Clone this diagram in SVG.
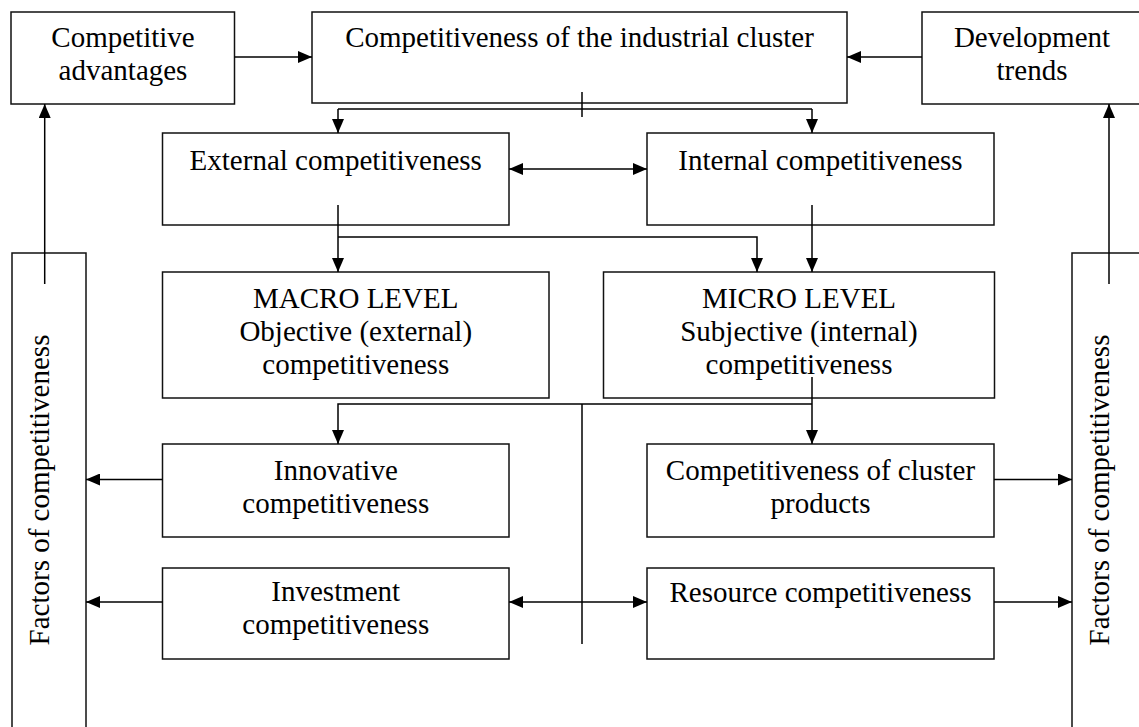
<svg xmlns="http://www.w3.org/2000/svg" width="1139" height="727" viewBox="0 0 1139 727">
  <defs>
    <marker id="arr" markerUnits="userSpaceOnUse" markerWidth="14" markerHeight="12" refX="14" refY="6" orient="auto-start-reverse" viewBox="0 0 14 12">
      <path d="M0,0 L14,6 L0,12 Z" fill="#000"/>
    </marker>
    <style>
      .box { fill: #fff; stroke: #111; stroke-width: 1.5; }
      .t { font-family: "Liberation Serif", "Times New Roman", serif; font-size: 29px; fill: #000; text-anchor: middle; }
      .ln { fill: none; stroke: #000; stroke-width: 1.5; }
      .a { marker-end: url(#arr); }
      .aa { marker-start: url(#arr); marker-end: url(#arr); }
    </style>
  </defs>
  <rect width="1139" height="727" fill="#fff"/>

  <g id="node-competitive-advantages">
    <rect class="box" x="11" y="12" width="223.5" height="92"/>
    <text class="t" x="123" y="47">Competitive</text>
    <text class="t" x="123" y="80">advantages</text>
  </g>
  <g id="node-cluster">
    <rect class="box" x="312" y="12" width="535" height="91"/>
    <text class="t" x="579.5" y="47">Competitiveness of the industrial cluster</text>
  </g>
  <g id="node-development-trends">
    <rect class="box" x="922" y="12" width="220" height="92"/>
    <text class="t" x="1032" y="47">Development</text>
    <text class="t" x="1032" y="80">trends</text>
  </g>
  <g id="node-external">
    <rect class="box" x="162.5" y="133" width="346.5" height="92"/>
    <text class="t" x="335.75" y="170">External competitiveness</text>
  </g>
  <g id="node-internal">
    <rect class="box" x="647" y="133" width="347" height="92"/>
    <text class="t" x="820.5" y="170">Internal competitiveness</text>
  </g>
  <g id="node-macro">
    <rect class="box" x="162.5" y="272" width="386.5" height="126"/>
    <text class="t" x="355.75" y="308">MACRO LEVEL</text>
    <text class="t" x="355.75" y="341">Objective (external)</text>
    <text class="t" x="355.75" y="374">competitiveness</text>
  </g>
  <g id="node-micro">
    <rect class="box" x="603.5" y="272" width="391" height="126"/>
    <text class="t" x="799" y="308">MICRO LEVEL</text>
    <text class="t" x="799" y="341">Subjective (internal)</text>
    <text class="t" x="799" y="374">competitiveness</text>
  </g>
  <g id="node-innovative">
    <rect class="box" x="162.5" y="444" width="346.5" height="93"/>
    <text class="t" x="335.75" y="480">Innovative</text>
    <text class="t" x="335.75" y="513">competitiveness</text>
  </g>
  <g id="node-products">
    <rect class="box" x="647" y="444" width="347" height="93"/>
    <text class="t" x="820.5" y="480">Competitiveness of cluster</text>
    <text class="t" x="820.5" y="513">products</text>
  </g>
  <g id="node-investment">
    <rect class="box" x="162.5" y="568" width="346.5" height="91"/>
    <text class="t" x="335.75" y="601">Investment</text>
    <text class="t" x="335.75" y="634">competitiveness</text>
  </g>
  <g id="node-resource">
    <rect class="box" x="647" y="568" width="347" height="91"/>
    <text class="t" x="820.5" y="602">Resource competitiveness</text>
  </g>
  <g id="node-factors-left">
    <rect class="box" x="12" y="253" width="74" height="490"/>
    <text class="t" transform="translate(49,490) rotate(-90)" x="0" y="0">Factors of competitiveness</text>
  </g>
  <g id="node-factors-right">
    <rect class="box" x="1072" y="253" width="74" height="490"/>
    <text class="t" transform="translate(1109,490) rotate(-90)" x="0" y="0">Factors of competitiveness</text>
  </g>

  <g id="connectors">
    <path class="ln a" d="M234.5,57 H312"/>
    <path class="ln a" d="M922,57 H847"/>
    <path class="ln" d="M338,109 H812"/>
    <path class="ln" d="M582,92 V117"/>
    <path class="ln a" d="M338,109 V133"/>
    <path class="ln a" d="M812,109 V133"/>
    <path class="ln aa" d="M509,169 H647"/>
    <path class="ln a" d="M338,205 V272"/>
    <path class="ln a" d="M338,237 H757 V272"/>
    <path class="ln a" d="M812,205 V272"/>
    <path class="ln a" d="M812,377 V444"/>
    <path class="ln a" d="M812,404 H338 V444"/>
    <path class="ln" d="M582,404 V644"/>
    <path class="ln a" d="M162.5,479.5 H86"/>
    <path class="ln a" d="M994,479.5 H1072"/>
    <path class="ln a" d="M162.5,602 H86"/>
    <path class="ln a" d="M994,602 H1072"/>
    <path class="ln aa" d="M509,602 H647"/>
    <path class="ln a" d="M44.7,284 V104"/>
    <path class="ln a" d="M1109,284 V104"/>
  </g>
</svg>
